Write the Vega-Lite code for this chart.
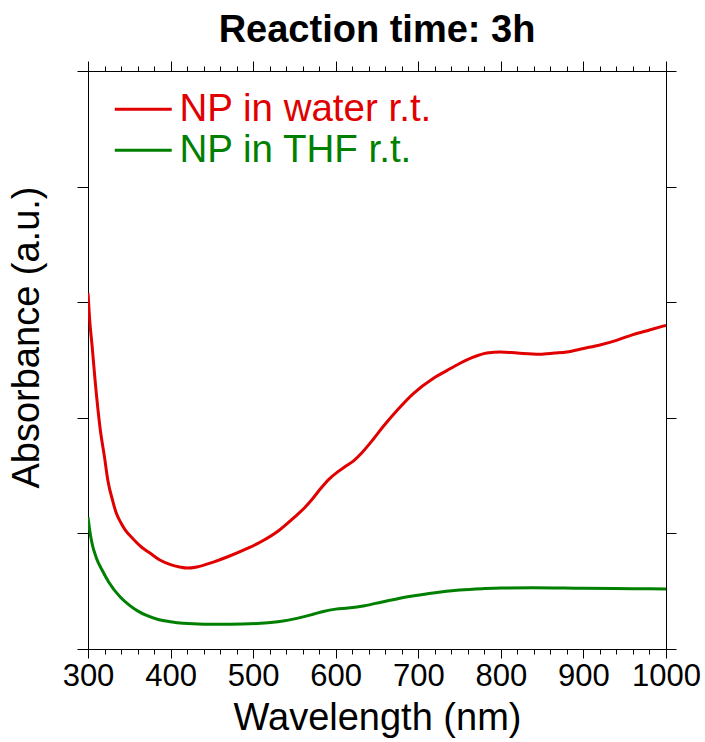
{
  "$schema": "https://vega.github.io/schema/vega-lite/v6.json",
  "width": 578,
  "height": 578,
  "autosize": {"type": "none"},
  "padding": {"left": 88, "top": 71, "right": 39, "bottom": 93},
  "background": "white",
  "title": {"text": "Reaction time: 3h", "font": "Liberation Sans", "fontSize": 38, "fontWeight": "bold", "color": "black", "offset": 11, "anchor": "middle"},
  "config": {
    "view": {"stroke": null},
    "axis": {"labelFont": "Liberation Sans", "titleFont": "Liberation Sans", "labelColor": "black", "titleColor": "black", "domainColor": "black", "tickColor": "black", "grid": false, "titleFontWeight": "normal"}
  },
  "data": {"values": [
    {"wl": 300, "abs": 3.08, "series": "NP in water r.t."},
    {"wl": 302, "abs": 2.85, "series": "NP in water r.t."},
    {"wl": 305, "abs": 2.62, "series": "NP in water r.t."},
    {"wl": 308.5, "abs": 2.33, "series": "NP in water r.t."},
    {"wl": 315, "abs": 1.89, "series": "NP in water r.t."},
    {"wl": 320, "abs": 1.66, "series": "NP in water r.t."},
    {"wl": 324, "abs": 1.46, "series": "NP in water r.t."},
    {"wl": 330, "abs": 1.28, "series": "NP in water r.t."},
    {"wl": 334, "abs": 1.18, "series": "NP in water r.t."},
    {"wl": 340, "abs": 1.09, "series": "NP in water r.t."},
    {"wl": 345, "abs": 1.03, "series": "NP in water r.t."},
    {"wl": 355, "abs": 0.95, "series": "NP in water r.t."},
    {"wl": 365, "abs": 0.88, "series": "NP in water r.t."},
    {"wl": 375, "abs": 0.83, "series": "NP in water r.t."},
    {"wl": 387, "abs": 0.77, "series": "NP in water r.t."},
    {"wl": 400, "abs": 0.73, "series": "NP in water r.t."},
    {"wl": 411, "abs": 0.71, "series": "NP in water r.t."},
    {"wl": 420, "abs": 0.70, "series": "NP in water r.t."},
    {"wl": 432, "abs": 0.71, "series": "NP in water r.t."},
    {"wl": 451, "abs": 0.75, "series": "NP in water r.t."},
    {"wl": 470, "abs": 0.80, "series": "NP in water r.t."},
    {"wl": 493, "abs": 0.87, "series": "NP in water r.t."},
    {"wl": 510, "abs": 0.93, "series": "NP in water r.t."},
    {"wl": 532, "abs": 1.03, "series": "NP in water r.t."},
    {"wl": 550, "abs": 1.14, "series": "NP in water r.t."},
    {"wl": 562, "abs": 1.22, "series": "NP in water r.t."},
    {"wl": 572, "abs": 1.30, "series": "NP in water r.t."},
    {"wl": 582, "abs": 1.39, "series": "NP in water r.t."},
    {"wl": 592, "abs": 1.47, "series": "NP in water r.t."},
    {"wl": 602, "abs": 1.53, "series": "NP in water r.t."},
    {"wl": 612, "abs": 1.58, "series": "NP in water r.t."},
    {"wl": 622, "abs": 1.63, "series": "NP in water r.t."},
    {"wl": 632, "abs": 1.70, "series": "NP in water r.t."},
    {"wl": 645, "abs": 1.81, "series": "NP in water r.t."},
    {"wl": 657, "abs": 1.92, "series": "NP in water r.t."},
    {"wl": 675, "abs": 2.07, "series": "NP in water r.t."},
    {"wl": 694, "abs": 2.21, "series": "NP in water r.t."},
    {"wl": 718, "abs": 2.34, "series": "NP in water r.t."},
    {"wl": 735, "abs": 2.41, "series": "NP in water r.t."},
    {"wl": 750, "abs": 2.47, "series": "NP in water r.t."},
    {"wl": 765, "abs": 2.52, "series": "NP in water r.t."},
    {"wl": 783, "abs": 2.56, "series": "NP in water r.t."},
    {"wl": 800, "abs": 2.57, "series": "NP in water r.t."},
    {"wl": 820, "abs": 2.56, "series": "NP in water r.t."},
    {"wl": 847, "abs": 2.55, "series": "NP in water r.t."},
    {"wl": 865, "abs": 2.56, "series": "NP in water r.t."},
    {"wl": 880, "abs": 2.57, "series": "NP in water r.t."},
    {"wl": 900, "abs": 2.60, "series": "NP in water r.t."},
    {"wl": 920, "abs": 2.63, "series": "NP in water r.t."},
    {"wl": 940, "abs": 2.67, "series": "NP in water r.t."},
    {"wl": 960, "abs": 2.72, "series": "NP in water r.t."},
    {"wl": 980, "abs": 2.76, "series": "NP in water r.t."},
    {"wl": 1000, "abs": 2.80, "series": "NP in water r.t."},
    {"wl": 300, "abs": 1.14, "series": "NP in THF r.t."},
    {"wl": 302, "abs": 1.03, "series": "NP in THF r.t."},
    {"wl": 305, "abs": 0.91, "series": "NP in THF r.t."},
    {"wl": 310, "abs": 0.79, "series": "NP in THF r.t."},
    {"wl": 318, "abs": 0.67, "series": "NP in THF r.t."},
    {"wl": 325, "abs": 0.58, "series": "NP in THF r.t."},
    {"wl": 339, "abs": 0.45, "series": "NP in THF r.t."},
    {"wl": 350, "abs": 0.38, "series": "NP in THF r.t."},
    {"wl": 360, "abs": 0.33, "series": "NP in THF r.t."},
    {"wl": 371, "abs": 0.29, "series": "NP in THF r.t."},
    {"wl": 385, "abs": 0.255, "series": "NP in THF r.t."},
    {"wl": 400, "abs": 0.235, "series": "NP in THF r.t."},
    {"wl": 415, "abs": 0.222, "series": "NP in THF r.t."},
    {"wl": 440, "abs": 0.215, "series": "NP in THF r.t."},
    {"wl": 472, "abs": 0.215, "series": "NP in THF r.t."},
    {"wl": 505, "abs": 0.22, "series": "NP in THF r.t."},
    {"wl": 530, "abs": 0.235, "series": "NP in THF r.t."},
    {"wl": 553, "abs": 0.265, "series": "NP in THF r.t."},
    {"wl": 570, "abs": 0.295, "series": "NP in THF r.t."},
    {"wl": 585, "abs": 0.325, "series": "NP in THF r.t."},
    {"wl": 600, "abs": 0.345, "series": "NP in THF r.t."},
    {"wl": 615, "abs": 0.355, "series": "NP in THF r.t."},
    {"wl": 635, "abs": 0.375, "series": "NP in THF r.t."},
    {"wl": 655, "abs": 0.405, "series": "NP in THF r.t."},
    {"wl": 675, "abs": 0.435, "series": "NP in THF r.t."},
    {"wl": 695, "abs": 0.46, "series": "NP in THF r.t."},
    {"wl": 718, "abs": 0.485, "series": "NP in THF r.t."},
    {"wl": 750, "abs": 0.51, "series": "NP in THF r.t."},
    {"wl": 778, "abs": 0.522, "series": "NP in THF r.t."},
    {"wl": 800, "abs": 0.528, "series": "NP in THF r.t."},
    {"wl": 839, "abs": 0.53, "series": "NP in THF r.t."},
    {"wl": 900, "abs": 0.525, "series": "NP in THF r.t."},
    {"wl": 960, "abs": 0.522, "series": "NP in THF r.t."},
    {"wl": 1000, "abs": 0.52, "series": "NP in THF r.t."}
  ]},
  "layer": [
    {
      "mark": {"type": "line", "strokeWidth": 3, "interpolate": "monotone", "clip": true},
      "encoding": {
        "x": {"field": "wl", "type": "quantitative", "scale": {"domain": [300, 1000], "nice": false},
          "axis": {"orient": "bottom", "title": "Wavelength (nm)", "titleFontSize": 38, "labelFontSize": 31, "format": "d",
            "values": [300,320,340,360,380,400,420,440,460,480,500,520,540,560,580,600,620,640,660,680,700,720,740,760,780,800,820,840,860,880,900,920,940,960,980,1000],
            "labelExpr": "datum.value % 100 === 0 ? datum.label : ''",
            "tickSize": {"condition": {"test": "datum.value % 100 === 0", "value": 9}, "value": 5},
            "labelOverlap": false, "labelFlush": false, "labelPadding": 3, "titlePadding": 8, "domainWidth": 1, "tickWidth": 1}},
        "y": {"field": "abs", "type": "quantitative", "scale": {"domain": [0, 5], "nice": false},
          "axis": {"orient": "left", "title": "Absorbance (a.u.)", "titleFontSize": 38, "labels": false, "values": [0,1,2,3,4,5], "tickSize": 11, "titlePadding": 30, "titleY": 266, "domainWidth": 1}},
        "color": {"field": "series", "type": "nominal",
          "scale": {"domain": ["NP in water r.t.", "NP in THF r.t."], "range": ["#e00000", "#007f00"]},
          "legend": {"orient": "none", "legendX": 36, "legendY": 19, "title": null, "symbolType": "M-2,0H2", "symbolSize": 812, "symbolStrokeWidth": 3,
            "labelFont": "Liberation Sans", "labelFontSize": 38.5, "labelOffset": 17, "rowPadding": 2, "padding": 0, "labelLimit": 500,
            "encode": {"labels": {"update": {"fill": {"scale": "color", "field": "value"}}}}}}
      }
    },
    {
      "mark": {"type": "point", "opacity": 0},
      "encoding": {
        "x": {"field": "wl", "type": "quantitative",
          "axis": {"orient": "top", "title": null, "labels": false,
            "values": [300,320,340,360,380,400,420,440,460,480,500,520,540,560,580,600,620,640,660,680,700,720,740,760,780,800,820,840,860,880,900,920,940,960,980,1000],
            "tickSize": {"condition": {"test": "datum.value % 100 === 0", "value": 10}, "value": 5}, "domainWidth": 1}},
        "y": {"field": "abs", "type": "quantitative",
          "axis": {"orient": "right", "title": null, "labels": false, "values": [0,1,2,3,4,5], "tickSize": 10, "domainWidth": 1}}
      }
    }
  ],
  "resolve": {"axis": {"x": "independent", "y": "independent"}}
}
